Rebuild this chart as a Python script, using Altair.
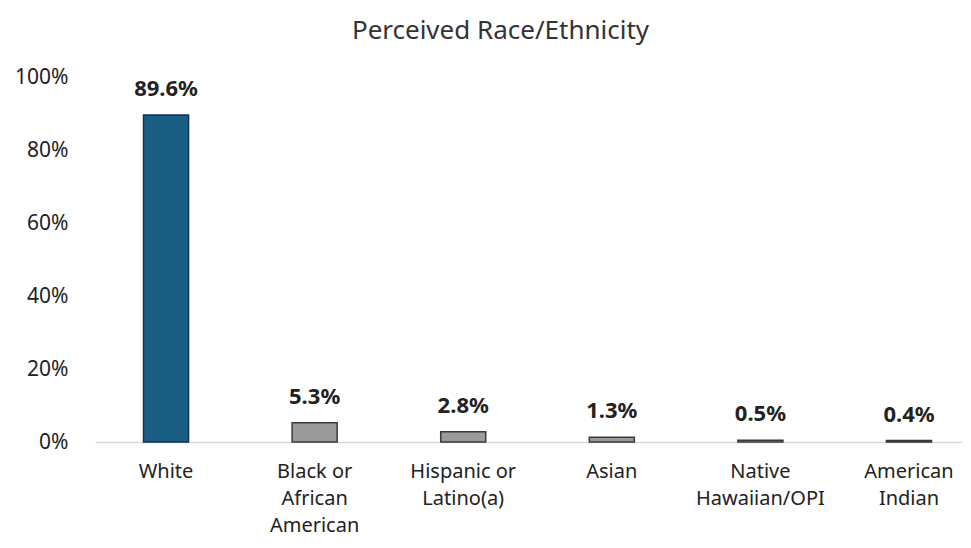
import altair as alt
import pandas as pd

categories = ["White", "Black or African American", "Hispanic or Latino(a)", "Asian",
              "Native Hawaiian/OPI", "American Indian"]
axis_labels = [["White"], ["Black or", "African", "American"], ["Hispanic or", "Latino(a)"],
               ["Asian"], ["Native", "Hawaiian/OPI"], ["American", "Indian"]]
values = [89.6, 5.3, 2.8, 1.3, 0.5, 0.4]
labels = ["89.6%", "5.3%", "2.8%", "1.3%", "0.5%", "0.4%"]
group = ["main", "other", "other", "other", "other", "other"]

df = pd.DataFrame({"cat": categories, "value": values, "label": labels, "group": group})

label_expr = "{" + ",".join(
    f'"{c}": {axis_labels[i]!r}'.replace("'", '"') for i, c in enumerate(categories)
) + "}[datum.value]"

FONT = "Noto Sans"

x = alt.X("cat:N", sort=categories, title=None,
          scale=alt.Scale(paddingInner=0.697, paddingOuter=0.266, align=0.614),
          axis=alt.Axis(labelAngle=0, labelExpr=label_expr, labelFontSize=20,
                        labelColor="#222222", labelFont=FONT, ticks=False,
                        domainColor="#d9d9d9", domainWidth=1.5, labelPadding=19,
                        labelLineHeight=27, labelBaseline="top"))
y = alt.Y("value:Q", title=None,
          scale=alt.Scale(domain=[0, 100], nice=False),
          axis=alt.Axis(values=[0, 20, 40, 60, 80, 100], labelExpr="datum.value + '%'",
                        labelFontSize=21, labelColor="#222222", labelFont=FONT,
                        ticks=False, domain=False, grid=False, labelPadding=27))

bars = alt.Chart(df).mark_bar(strokeWidth=1.5).encode(
    x=x, y=y,
    color=alt.Color("group:N", scale=alt.Scale(domain=["main", "other"],
                                                range=["#1b5e84", "#9b9b9b"]), legend=None),
    stroke=alt.Stroke("group:N", scale=alt.Scale(domain=["main", "other"],
                                                  range=["#0f2f5c", "#3a3a3a"]), legend=None),
)
text = alt.Chart(df).mark_text(dy=-14, fontSize=22, fontWeight="bold", font=FONT,
                                color="#222222", baseline="bottom").encode(
    x=alt.X("cat:N", sort=categories), y="value:Q", text="label:N")

chart = alt.layer(bars, text).properties(
    width=867, height=365,
    padding={"left": 87, "top": 69, "right": 0, "bottom": 98},
    autosize=alt.AutoSizeParams(type="none"),
    title=alt.TitleParams("Perceived Race/Ethnicity", fontSize=26, font=FONT,
                          fontWeight="normal", color="#333333", offset=22, dx=-28),
).configure_view(stroke=None)

chart.save("out.html", embed_options={"renderer": "svg", "actions": False})
